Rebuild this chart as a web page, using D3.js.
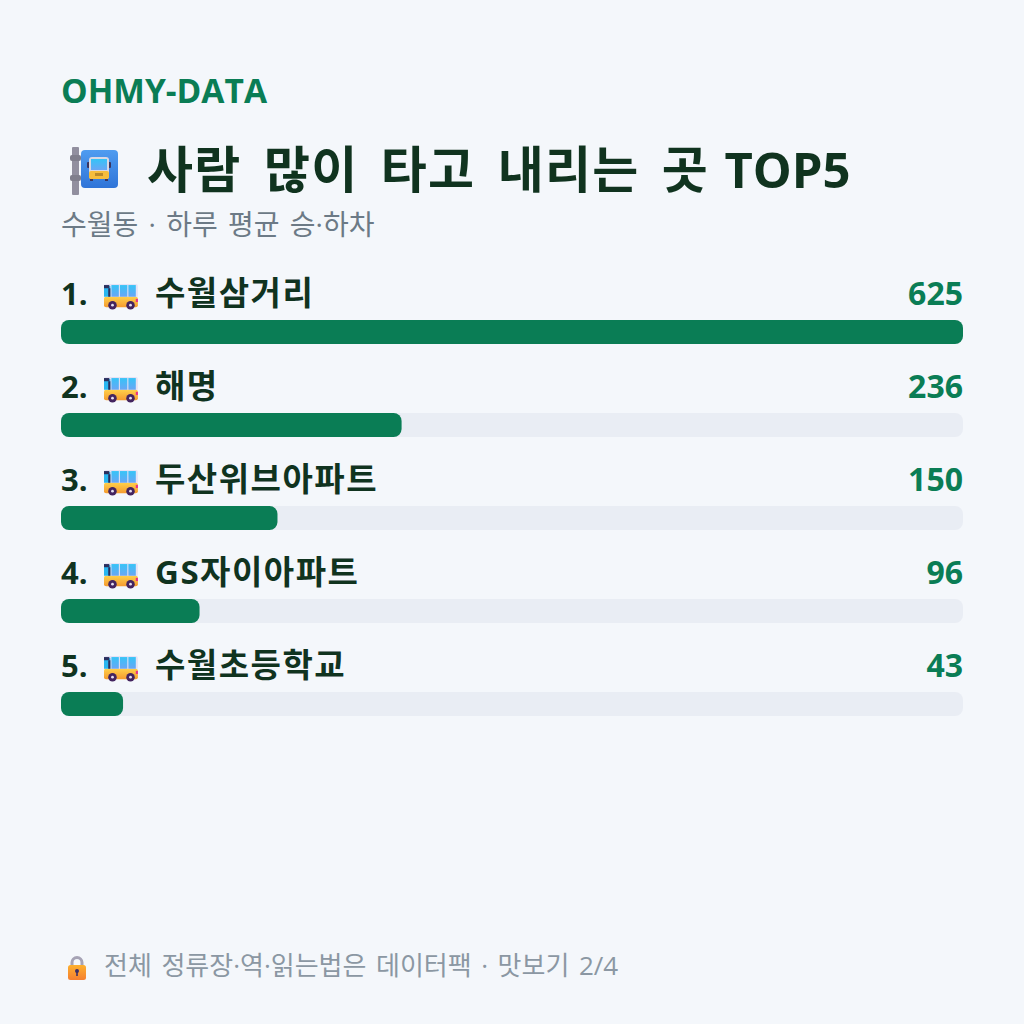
<!DOCTYPE html>
<html lang="ko">
<head>
<meta charset="utf-8">
<style>
html,body{margin:0;padding:0;background:#f4f7fb;}
svg{display:block;}
text{font-family:"Open Sans","Noto Sans CJK KR",sans-serif;}
</style>
<script src="https://cdn.jsdelivr.net/npm/d3@7/dist/d3.min.js"></script>
</head>
<body>
<svg id="chart" width="1024" height="1024"></svg>
<script>
const stops = ["수월삼거리", "해명", "두산위브아파트", "GS자이아파트", "수월초등학교"];
const riders = [625, 236, 150, 96, 43];
const brand = "OHMY-DATA";
const titleMain = "사람 많이 타고 내리는 곳 ";
const titleTail = "TOP5";
const subtitle = "수월동 · 하루 평균 승·하차";
const footer = "전체 정류장·역·읽는법은 데이터팩 · 맛보기 2/4";

const GREEN = "#0a7d55", INK = "#10331f", TRACK = "#e9edf4";
const svg = d3.select("#chart");
const left = 61, right = 963;

const x = d3.scaleLinear().domain([0, d3.max(riders)]).range([0, right - left]);
const y = d3.scaleBand().domain(d3.range(stops.length)).range([272, 737]);

const defs = svg.append("defs");
function grad(id, c0, c1) {
  const g = defs.append("linearGradient").attr("id", id).attr("x1", 0).attr("y1", 0).attr("x2", 0).attr("y2", 1);
  g.append("stop").attr("offset", 0).attr("stop-color", c0);
  g.append("stop").attr("offset", 1).attr("stop-color", c1);
}
grad("bodyOrange", "#ffd04a", "#f59a30");
grad("glass", "#35c4f7", "#6aa6f5");
grad("sign", "#4f9cf0", "#2f74d8");
grad("lock", "#fdb02e", "#f57f30");

svg.append("text").attr("x", 61).attr("y", 103).attr("fill", GREEN)
  .attr("font-size", 33.5).attr("font-weight", 700).text(brand);

const titleText = svg.append("text").attr("x", 147).attr("y", 188).attr("fill", INK)
  .attr("font-size", 50).attr("font-weight", 700).attr("word-spacing", 8);
titleText.append("tspan").attr("letter-spacing", 1.3).text(titleMain);
titleText.append("tspan").attr("font-size", 49).attr("dx", -7).text(titleTail);

svg.append("text").attr("x", 61).attr("y", 235).attr("fill", "#6c7a86")
  .attr("font-size", 28).attr("font-weight", 400).attr("word-spacing", 3).text(subtitle);

// Bus-stop sign beside the title
const sign = svg.append("g").attr("transform", "translate(70,147)");
sign.append("rect").attr("x", 2).attr("y", 0).attr("width", 7).attr("height", 48).attr("rx", 1).attr("fill", "#918f9f");
sign.append("rect").attr("x", 0).attr("y", 8).attr("width", 11).attr("height", 6).attr("rx", 2).attr("fill", "#7f7e8c");
sign.append("rect").attr("x", 0).attr("y", 28).attr("width", 11).attr("height", 6).attr("rx", 2).attr("fill", "#7f7e8c");
sign.append("rect").attr("x", 11).attr("y", 3).attr("width", 37).attr("height", 38).attr("rx", 4).attr("fill", "url(#sign)");
sign.append("rect").attr("x", 17).attr("y", 15).attr("width", 3).attr("height", 6).attr("rx", 1).attr("fill", "#3a3560");
sign.append("rect").attr("x", 38).attr("y", 15).attr("width", 3).attr("height", 6).attr("rx", 1).attr("fill", "#3a3560");
sign.append("rect").attr("x", 19).attr("y", 10).attr("width", 20).attr("height", 22).attr("rx", 3).attr("fill", "#d9d8e4");
sign.append("rect").attr("x", 21).attr("y", 12).attr("width", 16).attr("height", 11).attr("fill", "url(#glass)");
sign.append("rect").attr("x", 19).attr("y", 24).attr("width", 20).attr("height", 8).attr("rx", 2).attr("fill", "#f6bd3c");
sign.append("rect").attr("x", 25).attr("y", 26).attr("width", 8).attr("height", 3).attr("fill", "#b98a2a");
sign.append("rect").attr("x", 20).attr("y", 32).attr("width", 3).attr("height", 2).attr("fill", "#3a3560");
sign.append("rect").attr("x", 35).attr("y", 32).attr("width", 3).attr("height", 2).attr("fill", "#3a3560");

// Small side-view bus used in every row
function bus(g) {
  g.append("rect").attr("x", 0).attr("y", 0).attr("width", 32).attr("height", 13).attr("rx", 2).attr("fill", "#e6e2f4");
  g.append("rect").attr("x", 0).attr("y", 12).attr("width", 32).attr("height", 10).attr("rx", 2).attr("fill", "url(#bodyOrange)");
  g.append("rect").attr("x", 0).attr("y", 2).attr("width", 6).attr("height", 10).attr("fill", "#29b6f0");
  g.append("rect").attr("x", 0).attr("y", 1).attr("width", 5).attr("height", 3).attr("fill", "#2a2f5e");
  g.append("rect").attr("x", 4).attr("y", 4).attr("width", 2).attr("height", 8).attr("fill", "#2a2f5e");
  [7, 15, 23].forEach(wx => g.append("rect").attr("x", wx).attr("y", 1).attr("width", 7).attr("height", 11).attr("fill", "url(#glass)"));
  g.append("rect").attr("x", 30).attr("y", 14).attr("width", 2).attr("height", 3).attr("fill", "#e8318a");
  [8, 25].forEach(wx => {
    g.append("circle").attr("cx", wx).attr("cy", 20).attr("r", 4).attr("fill", "#43245f");
    g.append("circle").attr("cx", wx).attr("cy", 20).attr("r", 1.3).attr("fill", "#e4dff0");
  });
}

const rows = svg.selectAll("g.row").data(stops).join("g").attr("class", "row")
  .attr("transform", (d, i) => `translate(0,${y(i)})`);

rows.append("rect").attr("x", left).attr("y", 48).attr("width", right - left).attr("height", 24)
  .attr("rx", 8).attr("fill", TRACK);
rows.append("rect").attr("x", left).attr("y", 48).attr("width", (d, i) => x(riders[i])).attr("height", 24)
  .attr("rx", 8).attr("fill", GREEN);

rows.append("text").attr("x", left).attr("y", 33).attr("fill", INK)
  .attr("font-size", 31).attr("font-weight", 700).text((d, i) => `${i + 1}.`);
rows.append("g").attr("transform", "translate(104,12) scale(1.06)").each(function () { bus(d3.select(this)); });
rows.append("text").attr("x", 155).attr("y", 33).attr("fill", INK)
  .attr("font-size", 33).attr("font-weight", 700).attr("letter-spacing", 1.5).text(d => d);
rows.append("text").attr("x", right).attr("y", 33).attr("fill", GREEN).attr("text-anchor", "end")
  .attr("font-size", 32).attr("font-weight", 700).text((d, i) => riders[i]);

// Padlock and footer note
const lock = svg.append("g").attr("transform", "translate(68,955)");
lock.append("path").attr("d", "M4 11V7.5a5 5 0 0 1 10 0V11").attr("fill", "none").attr("stroke", "#a6a3b5").attr("stroke-width", 3);
lock.append("rect").attr("x", 0).attr("y", 10).attr("width", 18).attr("height", 15).attr("rx", 2.5).attr("fill", "url(#lock)");
lock.append("circle").attr("cx", 9).attr("cy", 16).attr("r", 2).attr("fill", "#3c2f66");
lock.append("rect").attr("x", 8.2).attr("y", 16).attr("width", 1.6).attr("height", 5).attr("fill", "#3c2f66");

svg.append("text").attr("x", 104).attr("y", 975).attr("fill", "#8b97a3")
  .attr("font-size", 26).attr("font-weight", 400).attr("word-spacing", 2.8).text(footer);
</script>
</body>
</html>
